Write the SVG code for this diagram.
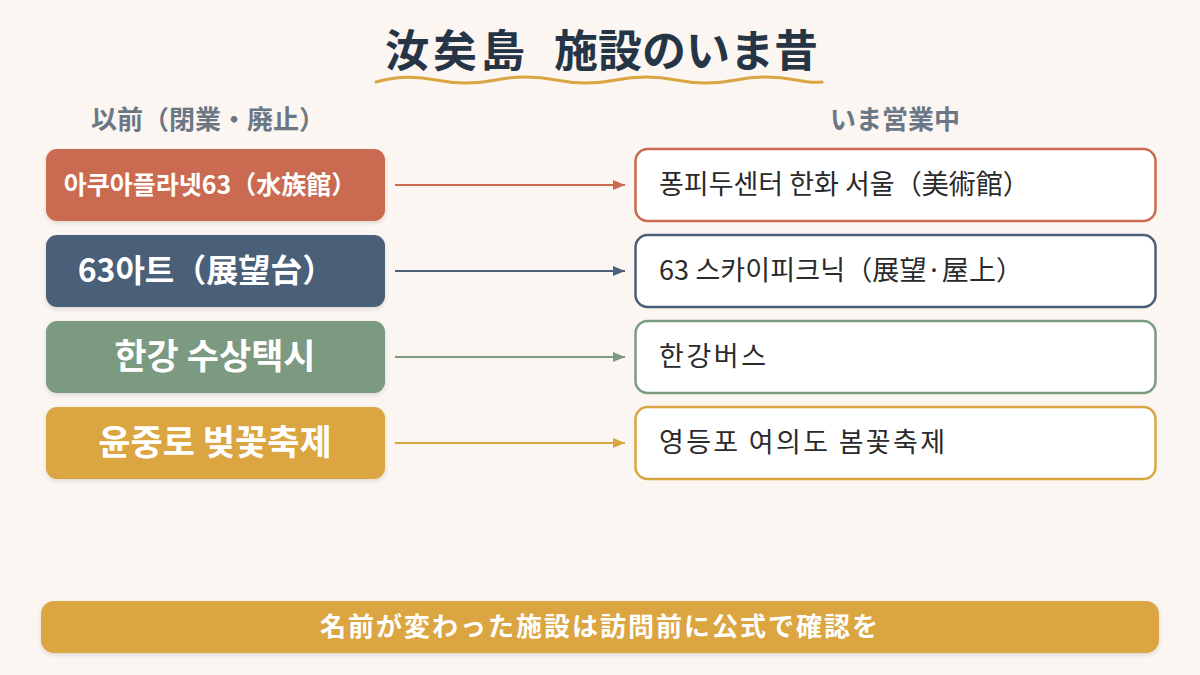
<svg xmlns="http://www.w3.org/2000/svg" width="1200" height="675" viewBox="0 0 1200 675">
  <defs>
    <style>
      .jp { font-family: "Noto Sans CJK JP", "Noto Sans", sans-serif; }
      .kr { font-family: "Noto Sans CJK KR", "Noto Sans", sans-serif; }
      .title { font-size: 44px; font-weight: 700; fill: #263546; }
      .head { font-size: 26px; font-weight: 700; fill: #6b7785; }
      .old { fill: #ffffff; font-weight: 700; text-anchor: middle; }
      .new { fill: #2a2a2a; font-size: 27px; }
      .newbox { fill: #ffffff; stroke-width: 2.5; }
      .conn { stroke-width: 2; fill: none; }
    </style>
    <filter id="sh" x="-10%" y="-20%" width="120%" height="150%">
      <feDropShadow dx="0" dy="2" stdDeviation="2" flood-color="#000000" flood-opacity="0.12"/>
    </filter>
    <marker id="a1" viewBox="0 0 12 10" refX="12" refY="5" markerWidth="12" markerHeight="10" orient="auto" markerUnits="userSpaceOnUse"><path d="M0,0 L12,5 L0,10 z" fill="#c96a51"/></marker>
    <marker id="a2" viewBox="0 0 12 10" refX="12" refY="5" markerWidth="12" markerHeight="10" orient="auto" markerUnits="userSpaceOnUse"><path d="M0,0 L12,5 L0,10 z" fill="#4a6078"/></marker>
    <marker id="a3" viewBox="0 0 12 10" refX="12" refY="5" markerWidth="12" markerHeight="10" orient="auto" markerUnits="userSpaceOnUse"><path d="M0,0 L12,5 L0,10 z" fill="#7b9a80"/></marker>
    <marker id="a4" viewBox="0 0 12 10" refX="12" refY="5" markerWidth="12" markerHeight="10" orient="auto" markerUnits="userSpaceOnUse"><path d="M0,0 L12,5 L0,10 z" fill="#dba542"/></marker>
  </defs>
  <rect width="1200" height="675" fill="#fbf6f1"/>

  <g id="title">
    <text class="jp title" x="385" y="67" letter-spacing="4">汝矣島</text>
    <text class="jp title" x="554" y="67">施設のいま昔</text>
    <path d="M376,82 C396,76 416,76 436,80 C456,84 476,84 496,80 C516,76 536,76 556,80 C576,84 596,84 616,80 C636,76 656,76 676,80 C696,84 716,84 736,80 C756,76 776,76 796,80 C806,82 814,83 822,82" fill="none" stroke="#d9a441" stroke-width="3" stroke-linecap="round"/>
  </g>

  <g id="headers">
    <text class="jp head" x="208" y="129" text-anchor="middle">以前（閉業・廃止）</text>
    <text class="jp head" x="895" y="129" text-anchor="middle">いま営業中</text>
  </g>

  <g id="connectors">
    <line class="conn" x1="395" y1="185" x2="625" y2="185" stroke="#c96a51" marker-end="url(#a1)"/>
    <line class="conn" x1="395" y1="271" x2="625" y2="271" stroke="#4a6078" marker-end="url(#a2)"/>
    <line class="conn" x1="395" y1="357" x2="625" y2="357" stroke="#7b9a80" marker-end="url(#a3)"/>
    <line class="conn" x1="395" y1="443" x2="625" y2="443" stroke="#dba542" marker-end="url(#a4)"/>
  </g>

  <g id="old1">
    <rect x="46" y="149" width="339" height="72" rx="11" fill="#c96a51" filter="url(#sh)"/>
    <text class="kr old" x="210" y="194" font-size="25">아쿠아플라넷63（水族館）</text>
  </g>
  <g id="old2">
    <rect x="46" y="235" width="339" height="72" rx="11" fill="#4a6078" filter="url(#sh)"/>
    <text class="kr old" x="206" y="282" font-size="32">63아트（展望台）</text>
  </g>
  <g id="old3">
    <rect x="46" y="321" width="339" height="72" rx="11" fill="#7b9a80" filter="url(#sh)"/>
    <text class="kr old" x="215" y="369" font-size="35">한강 수상택시</text>
  </g>
  <g id="old4">
    <rect x="46" y="407" width="339" height="72" rx="11" fill="#dba542" filter="url(#sh)"/>
    <text class="kr old" x="215" y="455" font-size="35">윤중로 벚꽃축제</text>
  </g>

  <g id="new1">
    <rect class="newbox" x="635.5" y="149" width="520" height="72" rx="12" stroke="#c96a51"/>
    <text class="kr new" x="659" y="194">퐁피두센터 한화 서울（美術館）</text>
  </g>
  <g id="new2">
    <rect class="newbox" x="635.5" y="235" width="520" height="72" rx="12" stroke="#4a6078"/>
    <text class="kr new" x="659" y="280" textLength="364" lengthAdjust="spacing">63 스카이피크닉（展望·屋上）</text>
  </g>
  <g id="new3">
    <rect class="newbox" x="635.5" y="321" width="520" height="72" rx="12" stroke="#7b9a80"/>
    <text class="kr new" x="659" y="366" textLength="107" lengthAdjust="spacing">한강버스</text>
  </g>
  <g id="new4">
    <rect class="newbox" x="635.5" y="407" width="520" height="72" rx="12" stroke="#dba542"/>
    <text class="kr new" x="659" y="452" textLength="286" lengthAdjust="spacing">영등포 여의도 봄꽃축제</text>
  </g>

  <g id="banner">
    <rect x="41" y="601" width="1118" height="52" rx="13" fill="#dba542" filter="url(#sh)"/>
    <text class="jp" x="600" y="636" text-anchor="middle" font-size="26" font-weight="700" letter-spacing="2" fill="#ffffff">名前が変わった施設は訪問前に公式で確認を</text>
  </g>
</svg>
